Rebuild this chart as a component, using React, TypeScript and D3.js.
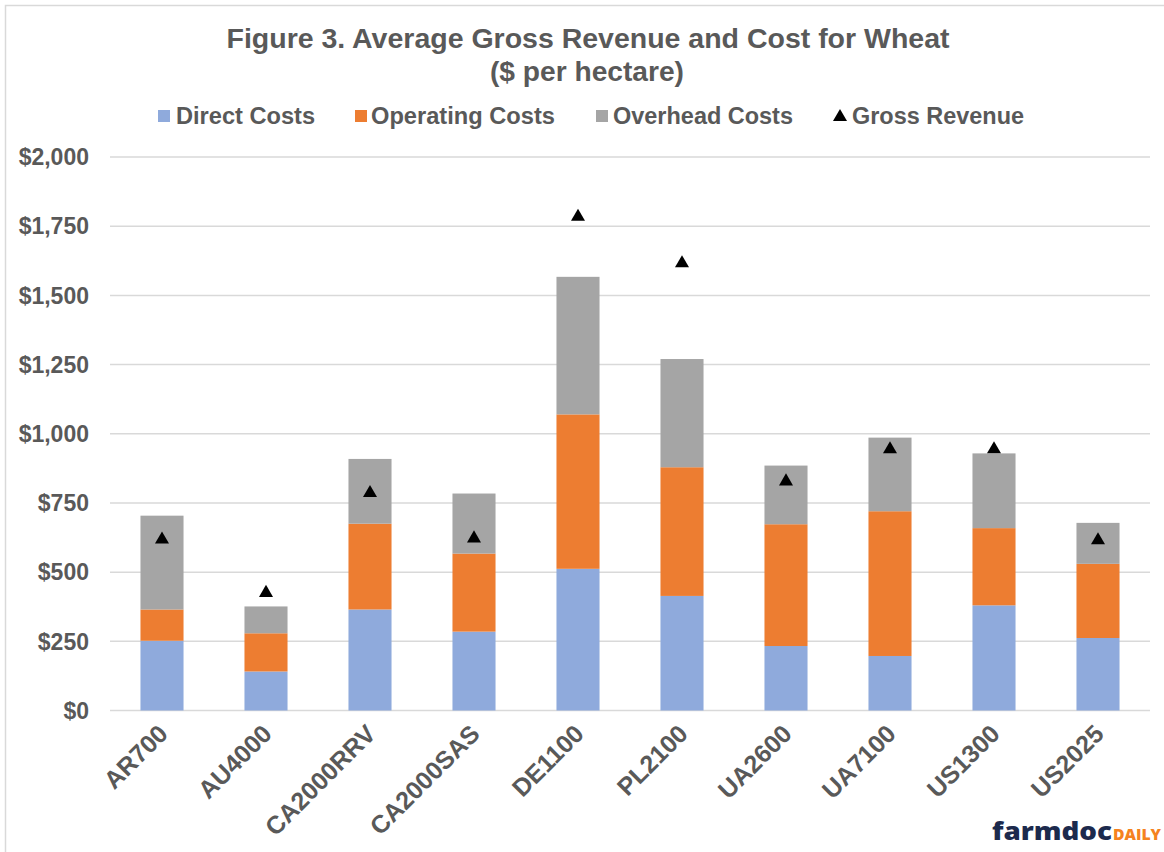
import React from 'react'
import * as d3 from 'd3'

const categories = ['AR700', 'AU4000', 'CA2000RRV', 'CA2000SAS', 'DE1100', 'PL2100', 'UA2600', 'UA7100', 'US1300', 'US2025']
const directCosts = [252, 141, 365, 285, 512, 414, 233, 197, 380, 262]
const operatingCosts = [113, 138, 310, 282, 558, 465, 440, 523, 279, 268]
const overheadCosts = [339, 97, 234, 217, 497, 391, 212, 266, 270, 148]
const grossRevenue = [618, 425, 786, 622, 1784, 1616, 828, 944, 944, 615]
const yTicks = [0, 250, 500, 750, 1000, 1250, 1500, 1750, 2000]

const seriesNames = ['Direct Costs', 'Operating Costs', 'Overhead Costs']
const seriesColors = ['#8faadc', '#ed7d31', '#a5a5a5']

const W = 1164
const H = 852
const TEXT = '#595959'
const FONT = '"Liberation Sans", Arial, sans-serif'

export default function App() {
  const x = d3.scaleBand<string>()
    .domain(categories)
    .range([110, 1150])
    .paddingInner(0.586)
    .paddingOuter(0.293)

  const y = d3.scaleLinear().domain([0, 2000]).range([710.5, 157])

  // stack the three cost components
  const rows = categories.map((c, i) => ({
    cat: c,
    direct: directCosts[i],
    operating: operatingCosts[i],
    overhead: overheadCosts[i],
  }))
  const stacked = d3.stack<any>().keys(['direct', 'operating', 'overhead'])(rows)

  const tri = d3.symbol().type(d3.symbolTriangle).size(85)()

  // legend layout: [marker x, text x, text width]
  const legendItems = [
    { label: seriesNames[0], color: seriesColors[0], mx: 158, tx: 176, tw: 139, kind: 'rect' },
    { label: seriesNames[1], color: seriesColors[1], mx: 355, tx: 371, tw: 184, kind: 'rect' },
    { label: seriesNames[2], color: seriesColors[2], mx: 596, tx: 613, tw: 180, kind: 'rect' },
    { label: 'Gross Revenue', color: '#000', mx: 834, tx: 852, tw: 172, kind: 'tri' },
  ]

  return (
    <svg width={W} height={H} style={{ position: 'absolute', left: 0, top: 0, background: '#fff' }} fontFamily={FONT}>
      <rect x={5.5} y={5.5} width={W + 10} height={H + 10} fill="#fff" stroke="#d9d9d9" strokeWidth={1.5} />

      {/* Title */}
      <text x={588} y={48} textAnchor="middle" fontSize={27} fontWeight="bold" fill={TEXT}
        textLength={723} lengthAdjust="spacingAndGlyphs">
        Figure 3. Average Gross Revenue and Cost for Wheat
      </text>
      <text x={587} y={81} textAnchor="middle" fontSize={27} fontWeight="bold" fill={TEXT}
        textLength={194} lengthAdjust="spacingAndGlyphs">
        ($ per hectare)
      </text>

      {/* Legend */}
      {legendItems.map((d) => (
        <g key={d.label}>
          {d.kind === 'rect'
            ? <rect x={d.mx} y={110} width={12} height={12} fill={d.color} />
            : <path d={tri} transform={`translate(${d.mx + 6},${117})`} fill="#000" />}
          <text x={d.tx} y={124} fontSize={23} fontWeight="bold" fill={TEXT}
            textLength={d.tw} lengthAdjust="spacingAndGlyphs">{d.label}</text>
        </g>
      ))}

      {/* Gridlines and y-axis labels */}
      {yTicks.map((t) => (
        <g key={t}>
          <line x1={110} x2={1150} y1={y(t)} y2={y(t)} stroke="#d9d9d9" strokeWidth={1.5} />
          <text x={89} y={y(t)} dy="0.36em" textAnchor="end" fontSize={23} fontWeight="bold" fill={TEXT}>
            {d3.format('$,')(t)}
          </text>
        </g>
      ))}

      {/* Stacked bars */}
      {stacked.map((layer, li) => (
        <g key={layer.key} fill={seriesColors[li]}>
          {layer.map((seg, i) => (
            <rect key={categories[i]}
              x={x(categories[i])!}
              y={y(seg[1])}
              width={x.bandwidth()}
              height={y(seg[0]) - y(seg[1])} />
          ))}
        </g>
      ))}

      {/* Gross revenue markers */}
      {grossRevenue.map((v, i) => (
        <path key={categories[i]} d={tri}
          transform={`translate(${x(categories[i])! + x.bandwidth() / 2},${y(v)})`}
          fill="#000" />
      ))}

      {/* X-axis labels */}
      {categories.map((c) => (
        <text key={c}
          transform={`translate(${x(c)! + x.bandwidth() / 2 + 1},${729}) rotate(-45)`}
          textAnchor="end" dy="0.36em" fontSize={25} fontWeight="bold" fill={TEXT}>
          {c}
        </text>
      ))}

      {/* farmdoc daily logo */}
      <text x={992} y={840} fontFamily='"Open Sans", "DejaVu Sans", sans-serif' fontWeight={800}>
        <tspan fontSize={24} fill="#1c2a4d" textLength={120} lengthAdjust="spacingAndGlyphs">farmdoc</tspan>
        <tspan x={1113} fontSize={16} fill="#f58220" textLength={48} lengthAdjust="spacingAndGlyphs">DAILY</tspan>
      </text>
    </svg>
  )
}
